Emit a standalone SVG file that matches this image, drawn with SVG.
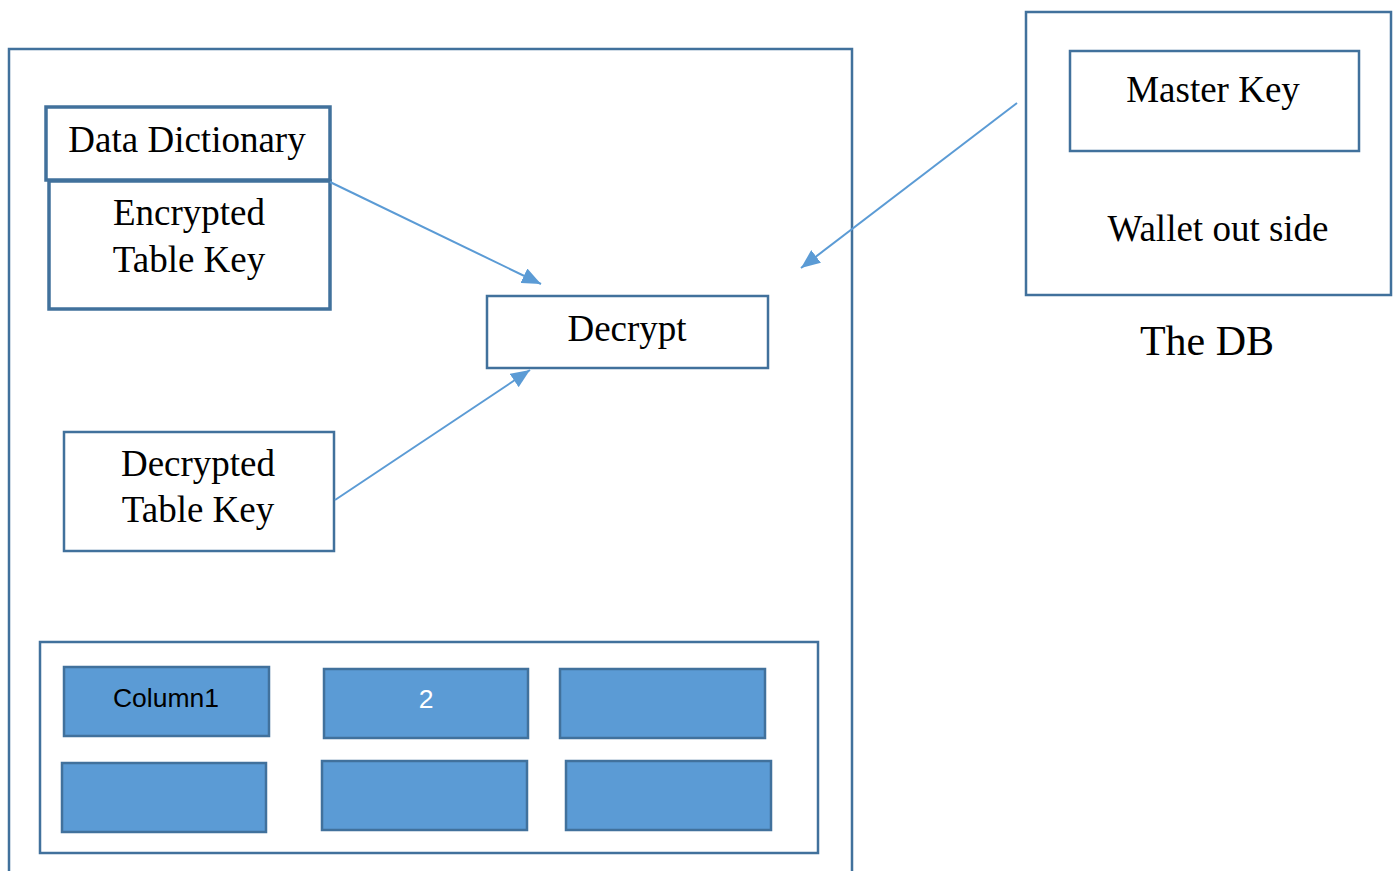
<svg xmlns="http://www.w3.org/2000/svg" width="1397" height="871" viewBox="0 0 1397 871">
<style>
.box{fill:#fff;stroke:#41719C;stroke-width:2.5}
.thick{fill:#fff;stroke:#41719C;stroke-width:3.5}
.cell{fill:#5B9BD5;stroke:#41719C;stroke-width:2.5}
.t{font-family:"Liberation Serif","Times New Roman",serif;font-size:37px;fill:#000;text-anchor:middle}
.s{font-family:"Liberation Sans",Arial,sans-serif;font-size:26.5px;text-anchor:middle}
.conn{stroke:#5B9BD5;stroke-width:2;fill:none;marker-end:url(#ah)}
</style>
<defs>
<marker id="ah" markerUnits="userSpaceOnUse" markerWidth="20" markerHeight="16" refX="19" refY="8" orient="auto">
<path d="M0,0 L19,8 L0,16 z" fill="#5B9BD5"/>
</marker>
</defs>
<g id="container">
<path d="M9,871 L9,49 L852,49 L852,871" class="box" fill="none"/>
</g>
<g id="dataDictionary">
<rect x="46" y="107" width="284" height="73" class="thick"/>
<text x="187" y="152" class="t">Data Dictionary</text>
</g>
<g id="encryptedKey">
<rect x="49" y="181" width="281" height="128" class="thick"/>
<text x="189" y="225" class="t">Encrypted</text>
<text x="189" y="272" class="t">Table Key</text>
</g>
<g id="decrypt">
<rect x="487" y="296" width="281" height="72" class="box"/>
<text x="627" y="341" class="t">Decrypt</text>
</g>
<g id="decryptedKey">
<rect x="64" y="432" width="270" height="119" class="box"/>
<text x="198" y="476" class="t">Decrypted</text>
<text x="198" y="522" class="t">Table Key</text>
</g>
<g id="table">
<rect x="40" y="642" width="778" height="211" class="box"/>
<g id="cell1"><rect x="64" y="667" width="205" height="69" class="cell"/><text x="166" y="707" class="s" fill="#000">Column1</text></g>
<g id="cell2"><rect x="324" y="669" width="204" height="69" class="cell"/><text x="426" y="708" class="s" fill="#fff">2</text></g>
<g id="cell3"><rect x="560" y="669" width="205" height="69" class="cell"/></g>
<g id="cell4"><rect x="62" y="763" width="204" height="69" class="cell"/></g>
<g id="cell5"><rect x="322" y="761" width="205" height="69" class="cell"/></g>
<g id="cell6"><rect x="566" y="761" width="205" height="69" class="cell"/></g>
</g>
<g id="wallet">
<rect x="1026" y="12" width="365" height="283" class="box"/>
<text x="1218" y="241" class="t">Wallet out side</text>
</g>
<g id="masterKey">
<rect x="1070" y="51" width="289" height="100" class="box"/>
<text x="1213" y="102" class="t">Master Key</text>
</g>
<g id="theDB">
<text x="1207" y="355" class="t" style="font-size:42px">The DB</text>
</g>
<g id="connectors">
<line x1="330" y1="182" x2="541" y2="284" class="conn"/>
<line x1="335" y1="500" x2="530" y2="370" class="conn"/>
<line x1="1017" y1="103" x2="801" y2="268" class="conn"/>
</g>
</svg>
